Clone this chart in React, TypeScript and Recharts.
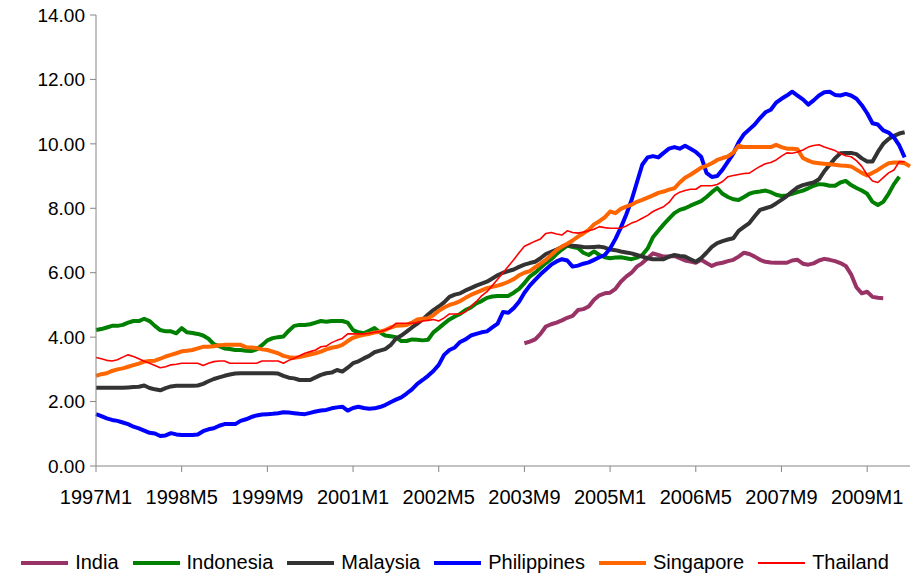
import { LineChart, Line, XAxis, YAxis, Legend } from 'recharts'

// monthly categories 1997M1 .. 2009M9
const months: string[] = []
for (let y = 1997; y <= 2009; y++) {
  for (let m = 1; m <= 12; m++) {
    if (months.length < 153) months.push(`${y}M${m}`)
  }
}

const tickLabels = [
  '1997M1', '1998M5', '1999M9', '2001M1', '2002M5',
  '2003M9', '2005M1', '2006M5', '2007M9', '2009M1',
]
const yTicks = [0, 2, 4, 6, 8, 10, 12, 14]

// India only starts in 2003M9
const indiaStart = 80
const india = [
  3.81, 3.86, 3.93, 4.1, 4.33, 4.4, 4.45, 4.52, 4.6, 4.66,
  4.84, 4.87, 4.95, 5.16, 5.3, 5.36, 5.38, 5.5, 5.72, 5.88,
  6.0, 6.19, 6.3, 6.45, 6.6, 6.55, 6.5, 6.5, 6.52, 6.45,
  6.38, 6.35, 6.31, 6.4, 6.3, 6.21, 6.28, 6.31, 6.36, 6.4,
  6.5, 6.62, 6.58, 6.5, 6.4, 6.34, 6.32, 6.31, 6.31, 6.31,
  6.38, 6.4, 6.28, 6.25, 6.29, 6.38, 6.43, 6.4, 6.36, 6.3,
  6.21, 5.95, 5.55, 5.36, 5.41, 5.25, 5.22, 5.21,
]

const indonesia = [
  4.22, 4.25, 4.3, 4.35, 4.35, 4.38, 4.45, 4.5, 4.5, 4.57,
  4.5, 4.35, 4.22, 4.18, 4.18, 4.12, 4.28, 4.15, 4.13, 4.1,
  4.05, 3.95, 3.78, 3.72, 3.65, 3.63, 3.6, 3.6, 3.58, 3.57,
  3.62, 3.75, 3.9, 3.97, 4.0, 4.02, 4.2, 4.35, 4.38, 4.38,
  4.4, 4.45, 4.5, 4.48, 4.5, 4.5, 4.5, 4.45, 4.22, 4.15,
  4.12, 4.2, 4.28, 4.15, 4.05, 4.03, 4.0, 3.88, 3.88, 3.93,
  3.92, 3.9, 3.92, 4.15, 4.28, 4.42, 4.55, 4.64, 4.72, 4.84,
  4.92, 5.05, 5.12, 5.22, 5.26, 5.28, 5.28, 5.28, 5.38, 5.5,
  5.68, 5.88, 6.0, 6.15, 6.3, 6.42, 6.58, 6.72, 6.84, 6.8,
  6.77, 6.62, 6.55, 6.66, 6.55, 6.48, 6.45, 6.47, 6.48, 6.45,
  6.42, 6.47, 6.55, 6.75, 7.1, 7.3, 7.5, 7.68, 7.85, 7.95,
  8.0, 8.08, 8.15, 8.22, 8.35, 8.5, 8.63, 8.45, 8.35, 8.28,
  8.26, 8.35, 8.45, 8.5, 8.52, 8.55, 8.5, 8.42, 8.38, 8.4,
  8.45, 8.5, 8.55, 8.62, 8.7, 8.75, 8.74, 8.7, 8.7, 8.8,
  8.85, 8.72, 8.63, 8.55, 8.45, 8.2, 8.1, 8.2, 8.45, 8.75,
  8.98,
]

const malaysia = [
  2.43, 2.43, 2.43, 2.43, 2.43, 2.43, 2.44, 2.45, 2.46, 2.5,
  2.42, 2.38, 2.35, 2.42, 2.47, 2.49, 2.49, 2.49, 2.49, 2.5,
  2.55, 2.63, 2.7, 2.75, 2.8, 2.84, 2.87, 2.88, 2.88, 2.88,
  2.88, 2.88, 2.88, 2.88, 2.87, 2.8, 2.74, 2.72, 2.67, 2.67,
  2.67, 2.75, 2.83, 2.88, 2.9, 2.98, 2.93, 3.05, 3.19, 3.25,
  3.34, 3.42, 3.53, 3.58, 3.63, 3.75, 3.95, 4.05, 4.17, 4.3,
  4.42, 4.55, 4.7, 4.84, 4.95, 5.08, 5.25, 5.32, 5.36, 5.45,
  5.52, 5.6, 5.66, 5.72, 5.82, 5.92, 6.0, 6.05, 6.1, 6.18,
  6.25, 6.3, 6.34, 6.45, 6.58, 6.65, 6.72, 6.8, 6.86, 6.84,
  6.82, 6.8, 6.79, 6.8, 6.81, 6.78, 6.72, 6.7, 6.66, 6.63,
  6.6, 6.55, 6.5, 6.45, 6.42, 6.42, 6.42, 6.5, 6.55, 6.52,
  6.5, 6.42, 6.34, 6.45, 6.62, 6.8, 6.92, 6.98, 7.03, 7.07,
  7.3, 7.42, 7.54, 7.75, 7.95, 8.0, 8.05, 8.15, 8.26, 8.38,
  8.52, 8.65, 8.72, 8.76, 8.8, 8.9, 9.15, 9.35, 9.55, 9.71,
  9.72, 9.72, 9.68, 9.55, 9.45, 9.45, 9.75, 10.0, 10.15, 10.25,
  10.32, 10.36,
]

const philippines = [
  1.61, 1.55, 1.48, 1.43, 1.4, 1.35, 1.3, 1.22, 1.17, 1.1,
  1.03, 1.01, 0.93, 0.95, 1.02, 0.98, 0.96, 0.96, 0.96, 0.98,
  1.08, 1.14, 1.17, 1.25, 1.3, 1.3, 1.3, 1.4, 1.45, 1.52,
  1.57, 1.6, 1.61, 1.62, 1.64, 1.67, 1.66, 1.64, 1.62, 1.61,
  1.65, 1.69, 1.72, 1.74, 1.79, 1.82, 1.84, 1.72, 1.8, 1.84,
  1.8, 1.78, 1.79, 1.83, 1.89, 1.98, 2.06, 2.13, 2.25, 2.38,
  2.55, 2.67, 2.8, 2.95, 3.14, 3.45, 3.6, 3.68, 3.85, 3.93,
  4.05, 4.1, 4.15, 4.18, 4.3, 4.42, 4.78, 4.76, 4.9, 5.1,
  5.38, 5.6, 5.78, 5.95, 6.1, 6.25, 6.35, 6.42, 6.38, 6.19,
  6.22, 6.28, 6.32, 6.4, 6.48, 6.55, 6.75, 7.05, 7.4, 7.8,
  8.25, 8.8, 9.35, 9.58, 9.62, 9.58, 9.72, 9.85, 9.9, 9.85,
  9.94, 9.85, 9.75, 9.6, 9.1, 8.97, 9.0, 9.2, 9.45, 9.7,
  10.05, 10.3, 10.45, 10.6, 10.8, 10.98, 11.06, 11.28, 11.4, 11.5,
  11.62, 11.5, 11.38, 11.22, 11.35, 11.5, 11.6, 11.62, 11.52, 11.5,
  11.55, 11.5, 11.4, 11.2, 10.95, 10.64, 10.6, 10.42, 10.35, 10.2,
  9.95, 9.58,
]

const singapore = [
  2.8, 2.85, 2.88, 2.95, 3.0, 3.03, 3.08, 3.13, 3.18, 3.24,
  3.26, 3.27, 3.33, 3.4, 3.45, 3.5, 3.56, 3.58, 3.6, 3.65,
  3.7, 3.7, 3.72, 3.75, 3.76, 3.76, 3.76, 3.76, 3.69, 3.68,
  3.66, 3.62, 3.6, 3.55, 3.5, 3.42, 3.38, 3.36, 3.38, 3.42,
  3.46, 3.5, 3.55, 3.62, 3.67, 3.7, 3.76, 3.88, 3.98, 4.03,
  4.07, 4.1, 4.14, 4.17, 4.22, 4.3, 4.35, 4.36, 4.38, 4.45,
  4.55, 4.57, 4.59, 4.68, 4.82, 4.92, 5.0, 5.05, 5.12, 5.22,
  5.31, 5.38, 5.45, 5.52, 5.56, 5.6, 5.65, 5.72, 5.8, 5.92,
  6.0, 6.05, 6.17, 6.28, 6.4, 6.55, 6.7, 6.81, 6.9, 7.0,
  7.12, 7.22, 7.33, 7.5, 7.6, 7.72, 7.9, 7.85, 7.98, 8.05,
  8.11, 8.2, 8.26, 8.33, 8.4, 8.48, 8.52, 8.58, 8.62, 8.8,
  8.95, 9.04, 9.15, 9.26, 9.32, 9.4, 9.5, 9.56, 9.61, 9.73,
  9.94, 9.9, 9.9, 9.9, 9.9, 9.9, 9.9, 9.97, 9.9, 9.85,
  9.85, 9.83, 9.56, 9.48, 9.42, 9.4, 9.38, 9.37, 9.35, 9.33,
  9.32, 9.3, 9.2, 9.1, 9.02, 9.1, 9.19, 9.3, 9.4, 9.42,
  9.42, 9.4, 9.3,
]

const thailand = [
  3.37, 3.33, 3.28, 3.26, 3.3, 3.38, 3.45, 3.4, 3.33, 3.25,
  3.19, 3.12, 3.05, 3.08, 3.14, 3.16, 3.19, 3.19, 3.19, 3.19,
  3.12, 3.19, 3.24, 3.26, 3.26, 3.19, 3.19, 3.19, 3.19, 3.19,
  3.19, 3.26, 3.26, 3.26, 3.26, 3.19, 3.28, 3.34, 3.42, 3.5,
  3.55, 3.6, 3.7, 3.72, 3.83, 3.9, 3.96, 4.1, 4.1, 4.1,
  4.1, 4.12, 4.15, 4.17, 4.22, 4.28, 4.43, 4.43, 4.43, 4.43,
  4.45, 4.5, 4.52, 4.55, 4.5, 4.6, 4.72, 4.72, 4.72, 4.79,
  4.95, 5.1, 5.28, 5.41, 5.6, 5.8, 6.0, 6.2, 6.4, 6.62,
  6.82, 6.9, 6.98, 7.05, 7.22, 7.25, 7.2, 7.17, 7.3, 7.25,
  7.23, 7.26, 7.3, 7.35, 7.43, 7.4, 7.38, 7.38, 7.38, 7.45,
  7.54, 7.6, 7.69, 7.78, 7.9, 7.98, 8.05, 8.18, 8.4, 8.5,
  8.55, 8.59, 8.59, 8.7, 8.7, 8.7, 8.74, 8.83, 8.98, 9.02,
  9.05, 9.08, 9.09, 9.2, 9.3, 9.38, 9.42, 9.5, 9.62, 9.72,
  9.71, 9.75, 9.81, 9.9, 9.95, 9.97, 9.9, 9.85, 9.79, 9.7,
  9.63, 9.6, 9.48, 9.3, 9.04, 8.85, 8.8, 8.95, 9.1, 9.19,
  9.45, 9.45,
]

const series = [
  { key: 'India', color: '#993366', width: 4 },
  { key: 'Indonesia', color: '#008000', width: 4 },
  { key: 'Malaysia', color: '#333333', width: 4 },
  { key: 'Philippines', color: '#0000FF', width: 4 },
  { key: 'Singapore', color: '#FF6600', width: 4 },
  { key: 'Thailand', color: '#FF0000', width: 1.6 },
]

const data = months.map((month, i) => ({
  month,
  India: i >= indiaStart ? india[i - indiaStart] ?? null : null,
  Indonesia: indonesia[i] ?? null,
  Malaysia: malaysia[i] ?? null,
  Philippines: philippines[i] ?? null,
  Singapore: singapore[i] ?? null,
  Thailand: thailand[i] ?? null,
}))

const font = '"Liberation Sans", Arial, sans-serif'

function ChartLegend() {
  return (
    <div
      style={{
        display: 'flex',
        justifyContent: 'center',
        alignItems: 'center',
        height: 30,
        paddingTop: 3,
        boxSizing: 'border-box',
        fontFamily: font,
        fontSize: 20,
        color: '#000',
      }}
    >
      {series.map((s, i) => (
        <div
          key={s.key}
          style={{ display: 'flex', alignItems: 'center', marginRight: i < series.length - 1 ? 14 : 0 }}
        >
          <svg width={47} height={10} style={{ marginRight: 7 }}>
            <line x1={0} y1={5} x2={47} y2={5} stroke={s.color} strokeWidth={s.width === 4 ? 4 : 2} />
          </svg>
          <span>{s.key}</span>
        </div>
      ))}
    </div>
  )
}

export default function App() {
  return (
    <div style={{ position: 'absolute', left: 0, top: 0, background: '#fff' }}>
      <LineChart
        width={912}
        height={576}
        data={data}
        margin={{ top: 15, right: 2, bottom: 0, left: 0 }}
      >
        <XAxis
          dataKey="month"
          ticks={tickLabels}
          interval={0}
          stroke="#868686"
          tickSize={6}
          tickMargin={18}
          height={80}
          tick={{ fill: '#000', fontSize: 20, fontFamily: font }}
        />
        <YAxis
          domain={[0, 14]}
          ticks={yTicks}
          width={96}
          stroke="#868686"
          tickSize={6}
          tickMargin={5}
          tickFormatter={(v: number) => v.toFixed(2)}
          tick={{ fill: '#000', fontSize: 19, fontFamily: font }}
        />
        <Legend verticalAlign="bottom" height={30} content={() => <ChartLegend />} />
        {series.map((s) => (
          <Line
            key={s.key}
            type="linear"
            dataKey={s.key}
            stroke={s.color}
            strokeWidth={s.width}
            strokeLinejoin="round"
            dot={false}
            activeDot={false}
            isAnimationActive={false}
          />
        ))}
      </LineChart>
    </div>
  )
}
